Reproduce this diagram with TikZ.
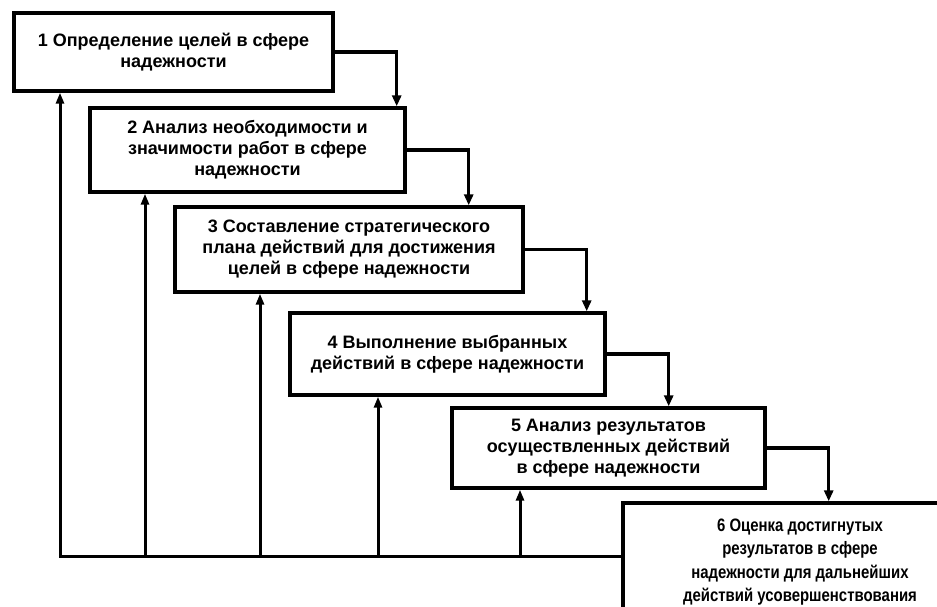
\documentclass[tikz,border=0pt]{standalone}
\usepackage{fontspec}
\setmainfont{Liberation Sans}
\newfontfamily\narrowsans{Liberation Sans}[FakeStretch=0.83]
\usetikzlibrary{arrows.meta}
\tikzset{
	stage/.style={draw, line width=3.4pt, inner sep=0pt, align=center,
		font=\bfseries\fontsize{18}{21}\selectfont},
	flow/.style={line width=3.4pt, line join=miter, -{Triangle[length=11pt,width=9pt]}},
	back/.style={line width=3pt, line join=miter, -{Triangle[length=11pt,width=8pt]}},
}

\begin{document}
\begin{tikzpicture}[x=1pt,y=-1pt]
	\path[use as bounding box, clip] (0,0) rectangle (937,607);

	\node[stage, minimum width=319pt, minimum height=78pt] (b1) at (173.5,52)
		{1 Определение целей в сфере\\надежности};
	\node[stage, minimum width=315pt, minimum height=84pt] (b2) at (247.5,150)
		{2 Анализ необходимости и\\значимости работ в сфере\\надежности};
	\node[stage, minimum width=348pt, minimum height=85pt] (b3) at (349,249.5)
		{3 Составление стратегического\\плана действий для достижения\\целей в сфере надежности};
	\node[stage, minimum width=315pt, minimum height=82pt] (b4) at (447.5,354)
		{4 Выполнение выбранных\\действий в сфере надежности};
	\node[stage, minimum width=313pt, minimum height=80pt] (b5) at (608.5,448)
		{5 Анализ результатов\\осуществленных действий\\в сфере надежности};
	\node[stage, font=\narrowsans\bfseries\fontsize{18}{23.5}\selectfont,
		minimum width=354pt, minimum height=118pt] (b6) at (800,562)
		{6 Оценка достигнутых\\результатов в сфере\\надежности для дальнейших\\действий усовершенствования};

	\foreach \a/\b in {b1/b2, b2/b3, b3/b4, b4/b5, b5/b6}
		\draw[flow] (\a.east) -- ++(62,0) coordinate (turn) -- (turn |- \b.north);

	\coordinate (bus) at (b6.west |- 0,556);
	\draw[back] (bus) -| (b1.south -| 60,0);
	\foreach \n/\x in {b2/145, b3/260, b4/378, b5/520}
		\draw[back] (bus -| \x,0) -- (\n.south -| \x,0);
\end{tikzpicture}
\end{document}
